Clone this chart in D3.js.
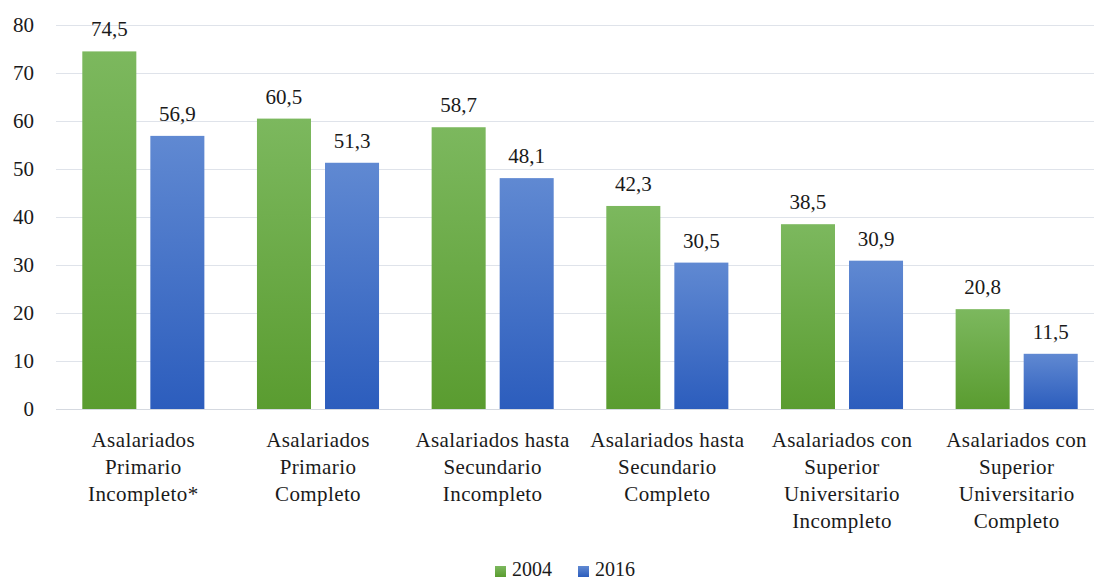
<!DOCTYPE html>
<html><head><meta charset="utf-8">
<script src="https://cdn.jsdelivr.net/npm/d3@7"></script>
<style>body{margin:0;background:#fff;} svg{display:block;}</style>
</head><body>
<svg id="c" width="1094" height="581"></svg>
<script>
const categories = [
  ["Asalariados","Primario","Incompleto*"],
  ["Asalariados","Primario","Completo"],
  ["Asalariados hasta","Secundario","Incompleto"],
  ["Asalariados hasta","Secundario","Completo"],
  ["Asalariados con","Superior","Universitario","Incompleto"],
  ["Asalariados con","Superior","Universitario","Completo"]
];
const series = ["2004","2016"];
const values2004 = [74.5, 60.5, 58.7, 42.3, 38.5, 20.8];
const values2016 = [56.9, 51.3, 48.1, 30.5, 30.9, 11.5];
const yTicks = [0,10,20,30,40,50,60,70,80];

const FONT = '"Liberation Serif"';
const svg = d3.select("#c");
const x = d3.scaleBand().domain(d3.range(categories.length)).range([56,1104]).paddingInner(0).paddingOuter(0);
const xs = d3.scaleBand().domain(series).range([26.3, x.bandwidth()-26.3]).paddingInner(0.206);
const y = d3.scaleLinear().domain([0,80]).range([409,25]);

const defs = svg.append("defs");
const grads = [["g2004","#7cb85e","#5a9c30"],["g2016","#6089d2","#2c5dbd"]];
grads.forEach(([id,c1,c2])=>{
  const g = defs.append("linearGradient").attr("id",id).attr("x1",0).attr("x2",0).attr("y1",0).attr("y2",1);
  g.append("stop").attr("offset","0%").attr("stop-color",c1);
  g.append("stop").attr("offset","100%").attr("stop-color",c2);
});

function styled(sel){
  return sel.style("font-family",FONT).style("font-size","21px").attr("fill","#1a1a1a");
}

// gridlines
svg.append("g").selectAll("line").data(yTicks).join("line")
  .attr("x1",56).attr("x2",1104).attr("y1",d=>y(d)+0.5).attr("y2",d=>y(d)+0.5)
  .attr("stroke",d=>d===0?"#d5d9e0":"#dfe3ea").attr("stroke-width",1);

// y tick labels
styled(svg.append("g").selectAll("text").data(yTicks).join("text")
  .attr("x",34).attr("y",d=>y(d)).attr("dy","0.33em").attr("text-anchor","end"))
  .text(d=>d);

const data = [values2004, values2016];
series.forEach((s,si)=>{
  const g = svg.append("g");
  g.selectAll("rect").data(data[si]).join("rect")
    .attr("x",(d,i)=>x(i)+xs(s)).attr("width",xs.bandwidth())
    .attr("y",d=>y(d)).attr("height",d=>y(0)-y(d))
    .attr("fill",`url(#g${s})`);
  styled(g.selectAll("text").data(data[si]).join("text")
    .attr("x",(d,i)=>x(i)+xs(s)+xs.bandwidth()/2).attr("y",d=>y(d)-15)
    .attr("text-anchor","middle"))
    .text(d=>d.toFixed(1).replace(".",","));
});

// category labels
const cg = svg.append("g");
categories.forEach((lines,i)=>{
  lines.forEach((ln,li)=>{
    styled(cg.append("text").attr("text-anchor","middle")
      .attr("x",x(i)+x.bandwidth()/2).attr("y",447+li*27))
      .style("letter-spacing","0.4px").text(ln);
  });
});

// legend
const lg = svg.append("g");
const legendX = [495, 578];
series.forEach((s,si)=>{
  lg.append("rect").attr("x",legendX[si]).attr("y",566).attr("width",11).attr("height",11).attr("fill",`url(#g${s})`);
  styled(lg.append("text").attr("x",legendX[si]+17).attr("y",576)).style("font-size","20px").text(s);
});
</script>
</body></html>
